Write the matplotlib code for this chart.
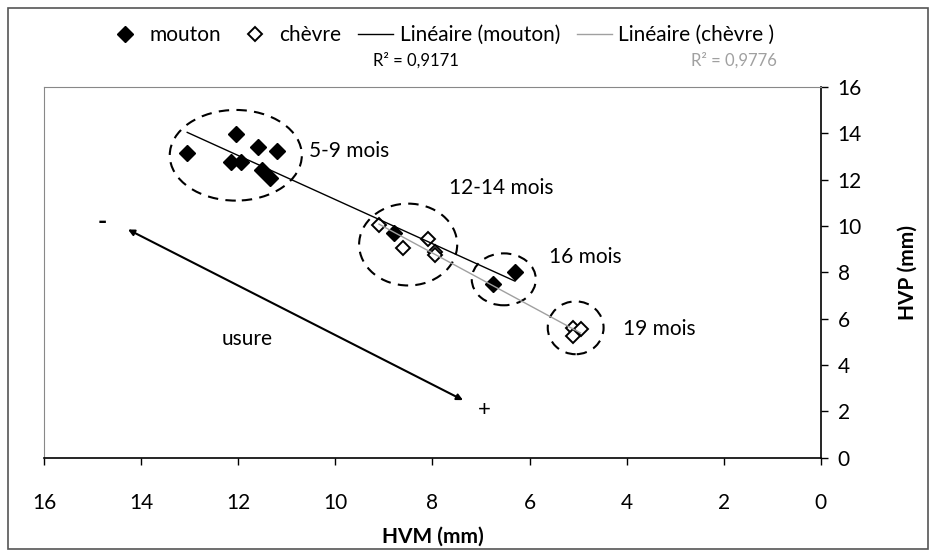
import numpy as np
import matplotlib
matplotlib.use("Agg")
from matplotlib import pyplot as plt
from matplotlib.patches import Ellipse, Rectangle
from matplotlib.lines import Line2D

plt.rcParams['font.family'] = ['Lato', 'DejaVu Sans']

# HVM / HVP (mm)
mouton_x = [13.05, 12.05, 12.15, 11.95, 11.6, 11.2, 11.5, 11.35, 8.8, 6.75, 6.3]
mouton_y = [13.15, 13.95, 12.75, 12.75, 13.4, 13.25, 12.4, 12.05, 9.7, 7.5, 8.0]
chevre_x = [9.1, 8.6, 8.1, 7.95, 7.95, 5.1, 4.95, 5.1]
chevre_y = [10.05, 9.05, 9.45, 8.9, 8.75, 5.6, 5.55, 5.25]

r2_mouton = "0,9171"
r2_chevre = "0,9776"

# classes d'age : centre (x, y), largeur, hauteur, texte et sa position
groupes = ["5-9 mois", "12-14 mois", "16 mois", "19 mois"]
groupes_centre = [(12.05, 13.05), (8.5, 9.2), (6.53, 7.7), (5.05, 5.61)]
groupes_taille = [(2.72, 3.91), (2.02, 3.53), (1.32, 2.24), (1.15, 2.28)]
groupes_texte = [(10.55, 13.25), (7.65, 11.65), (5.6, 8.65), (4.08, 5.55)]

fig = plt.figure(figsize=(9.36, 5.57), dpi=100)
ax = fig.add_axes([0.047, 0.178, 0.83, 0.666])

# cadre exterieur
fig.patches.append(Rectangle((8/936, 8/557), 920/936, 541/557, transform=fig.transFigure,
                             fill=False, edgecolor='#555555', lw=1.2))

ax.plot(mouton_x, mouton_y, 'D', color='black', markersize=8.5, zorder=3)
ax.plot(chevre_x, chevre_y, 'D', markerfacecolor='white', markeredgecolor='black',
        markeredgewidth=1.4, markersize=7.5, zorder=3)

# droites de regression
for xs, ys, c in [(mouton_x, mouton_y, 'black'), (chevre_x, chevre_y, '#a0a0a0')]:
    a, b = np.polyfit(xs, ys, 1)
    xx = np.array([min(xs), max(xs)])
    ax.plot(xx, a*xx + b, color=c, lw=1, zorder=4)

for nom, c, t, p in zip(groupes, groupes_centre, groupes_taille, groupes_texte):
    ax.add_patch(Ellipse(c, t[0], t[1], fill=False, edgecolor='black', lw=1.5,
                         linestyle=(0, (5, 3.5)), zorder=2))
    ax.text(p[0], p[1], nom, fontsize=15, va='center', ha='left')

# fleche usure
ax.annotate('', xy=(14.27, 9.85), xytext=(7.37, 2.49),
            arrowprops=dict(arrowstyle='<|-|>', color='black', lw=1.5,
                            mutation_scale=9, shrinkA=0, shrinkB=0))
ax.text(14.8, 10.2, '-', fontsize=18, fontweight='bold', ha='center', va='center')
ax.text(6.94, 2.05, '+', fontsize=16, ha='center', va='center')
ax.text(11.82, 5.12, 'usure', fontsize=15, ha='center', va='center')

ax.set_xlim(16, 0)
ax.set_ylim(0, 16)
ax.set_xticks(np.arange(16, -1, -2))
ax.set_yticks(np.arange(0, 17, 2))
ax.yaxis.tick_right()
ax.yaxis.set_label_position('right')
ax.tick_params(axis='both', direction='out', length=5, width=1, labelsize=15)
ax.tick_params(axis='x', pad=20)
ax.tick_params(axis='y', pad=7)
for s in ['top', 'left']:
    ax.spines[s].set_color('#888888')
    ax.spines[s].set_linewidth(0.8)
for s in ['bottom', 'right']:
    ax.spines[s].set_linewidth(1.2)

ax.set_xlabel('HVM (mm)', fontsize=15, fontweight='bold', labelpad=10)
ax.set_ylabel('HVP (mm)', fontsize=15, fontweight='bold', labelpad=26)

# legende
poignees = [
    Line2D([], [], marker='D', color='black', linestyle='none', markersize=8.5),
    Line2D([], [], marker='D', markerfacecolor='white', markeredgecolor='black',
           markeredgewidth=1.4, linestyle='none', markersize=7.5),
    Line2D([], [], color='black', lw=1),
    Line2D([], [], color='#a0a0a0', lw=1),
]
fig.legend(poignees, ['mouton', 'chèvre', 'Linéaire (mouton)', 'Linéaire (chèvre )'],
           loc='center', bbox_to_anchor=(441/936, 1 - 35/557), ncol=4, frameon=False,
           fontsize=15, handlelength=1.7, handletextpad=0.3, columnspacing=0.8)
fig.text(416/936, 1 - 60/557, 'R² = ' + r2_mouton, fontsize=12, ha='center', va='center')
fig.text(734/936, 1 - 60/557, 'R² = ' + r2_chevre, fontsize=12, ha='center', va='center',
         color='#a0a0a0')

fig.savefig('out.png', dpi=100)
